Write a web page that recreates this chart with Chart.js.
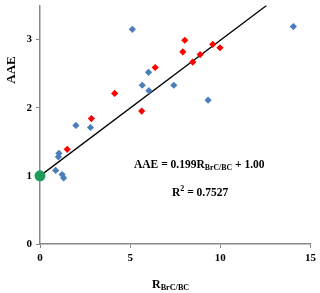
<!DOCTYPE html>
<html>
<head>
<meta charset="utf-8">
<script src="https://cdn.jsdelivr.net/npm/chart.js@4/dist/chart.umd.min.js"></script>
<style>
  html, body { margin: 0; padding: 0; background: #fff; }
  #wrap { width: 320px; height: 293px; }
</style>
</head>
<body>
<div id="wrap"><canvas id="c" width="320" height="293"></canvas></div>
<script>
// blue samples
const blueX = [5.12, 1.99, 2.80, 5.67, 6.02, 6.04, 14.05, 7.42, 9.32, 1.05, 1.02, 0.87, 1.23, 1.31];
const blueY = [3.15, 1.74, 1.71, 2.33, 2.52, 2.25, 3.19, 2.33, 2.11, 1.33, 1.28, 1.08, 1.02, 0.97];
// red samples
const redX = [1.51, 2.85, 4.14, 5.64, 6.39, 8.03, 7.92, 8.47, 8.88, 9.58, 9.98];
const redY = [1.39, 1.84, 2.21, 1.95, 2.59, 2.99, 2.82, 2.67, 2.78, 2.93, 2.88];
// intercept point
const greenX = [0];
const greenY = [1.00];
// fit: AAE = 0.199 R + 1.00
const slope = 0.199;
const intercept = 1.00;
const fitX = [0, 12.56];

const xTicks = [0, 5, 10, 15];
const yTicks = [0, 1, 2, 3];

const pts = (xs, ys) => xs.map((x, i) => ({ x: x, y: ys[i] }));
const serif = '"Liberation Serif", "Times New Roman", serif';

// text drawn on top: axis titles + equation
const labelsPlugin = {
  id: 'labels',
  afterDraw(chart) {
    const ctx = chart.ctx;
    ctx.save();
    ctx.fillStyle = '#000';
    ctx.textBaseline = 'alphabetic';

    // helper: text with subscript pieces
    function rich(parts, x, y, size) {
      let cx = x;
      parts.forEach(p => {
        const s = p.sub ? size * 0.68 : size;
        ctx.font = 'bold ' + s + 'px ' + serif;
        ctx.fillText(p.t, cx, y + (p.sub ? 2 : 0));
        cx += ctx.measureText(p.t).width;
      });
    }

    rich([{ t: 'AAE = 0.199R' }, { t: 'BrC/BC', sub: true }, { t: ' + 1.00' }], 134, 168, 11.5);

    ctx.font = 'bold 11.5px ' + serif;
    ctx.fillText('R', 172, 196);
    let w = ctx.measureText('R').width;
    ctx.font = 'bold 8px ' + serif;
    ctx.fillText('2', 172 + w, 191);
    let w2 = ctx.measureText('2').width;
    ctx.font = 'bold 11.5px ' + serif;
    ctx.fillText(' = 0.7527', 172 + w + w2, 196);

    // x title
    rich([{ t: 'R' }, { t: 'BrC/BC', sub: true }], 152, 288, 12);

    // y title
    ctx.translate(15, 70);
    ctx.rotate(-Math.PI / 2);
    ctx.font = 'bold 13px ' + serif;
    ctx.textAlign = 'center';
    ctx.fillText('AAE', 0, 0);
    ctx.restore();
  }
};

new Chart(document.getElementById('c'), {
  type: 'scatter',
  data: {
    datasets: [
      {
        type: 'line',
        data: fitX.map(x => ({ x: x, y: intercept + slope * x })),
        borderColor: '#000',
        borderWidth: 1.3,
        pointRadius: 0,
        fill: false,
        order: 3
      },
      {
        data: pts(blueX, blueY),
        pointStyle: 'rectRot',
        pointRadius: 3.6,
        backgroundColor: '#4a7ebb',
        borderColor: '#4a7ebb',
        borderWidth: 0,
        order: 2
      },
      {
        data: pts(redX, redY),
        pointStyle: 'rectRot',
        pointRadius: 3.6,
        backgroundColor: '#ff0000',
        borderColor: '#ff0000',
        borderWidth: 0,
        order: 1
      },
      {
        data: pts(greenX, greenY),
        pointStyle: 'circle',
        pointRadius: 5.5,
        backgroundColor: '#1e9a5a',
        borderColor: '#1e9a5a',
        borderWidth: 0,
        clip: false,
        order: 0
      }
    ]
  },
  options: {
    responsive: false,
    animation: false,
    layout: { padding: { top: 5, right: 9, left: 0, bottom: 0 } },
    plugins: { legend: { display: false }, tooltip: { enabled: false } },
    scales: {
      x: {
        type: 'linear',
        min: 0,
        max: 15,
        afterBuildTicks: s => { s.ticks = xTicks.map(v => ({ value: v })); },
        afterFit: s => { s.height = 49; },
        grid: { drawOnChartArea: false, drawTicks: true, tickLength: 4, color: '#888' },
        border: { color: '#888', width: 1.5 },
        ticks: { color: '#000', padding: 4, maxRotation: 0, font: { family: serif, size: 11, weight: 'bold' } }
      },
      y: {
        type: 'linear',
        min: 0,
        max: 3.5,
        afterBuildTicks: s => { s.ticks = yTicks.map(v => ({ value: v })); },
        afterFit: s => { s.width = 40; s.paddingTop = 0; s.paddingBottom = 0; },
        grid: { drawOnChartArea: false, drawTicks: true, tickLength: 4, color: '#888' },
        border: { color: '#888', width: 1.5 },
        ticks: { color: '#000', padding: 4, font: { family: serif, size: 11, weight: 'bold' } }
      }
    }
  },
  plugins: [labelsPlugin]
});
</script>
</body>
</html>
